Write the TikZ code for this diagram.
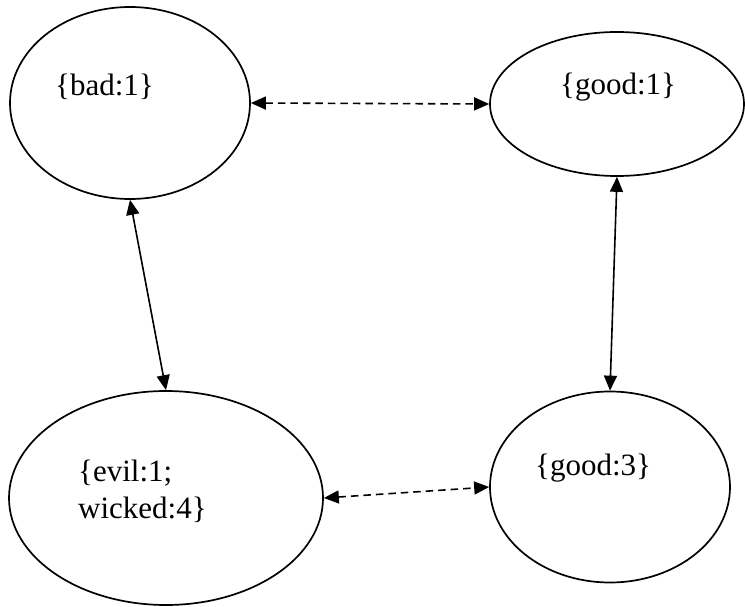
\documentclass[tikz,border=0pt]{standalone}
\usepackage{fontspec}
\setmainfont{Liberation Serif}
\usetikzlibrary{arrows.meta,shapes.geometric}

\tikzset{
  state/.style={ellipse, draw, line width=1.7pt, inner sep=0pt},
  caption/.style={inner sep=0pt, anchor=base west, align=left,
    font=\fontsize{31}{37}\selectfont},
  link/.style={line width=1.6pt, {Triangle[length=15pt,width=13pt]}-{Triangle[length=15pt,width=13pt]}},
  weak/.style={link, dash pattern=on 7.5pt off 5pt},
}

\begin{document}
\begin{tikzpicture}[x=1pt,y=-1pt]
  \useasboundingbox (0,0) rectangle (745,607);

  % the four word clusters
  \node[state, minimum width=240pt, minimum height=192pt] (bad)   at (130,103) {};
  \node[state, minimum width=254pt, minimum height=144pt] (goodA) at (617,104) {};
  \node[state, minimum width=314pt, minimum height=214pt] (evil)  at (166,498) {};
  \node[state, minimum width=240pt, minimum height=191pt] (goodB) at (610,487) {};

  % their contents
  \node[caption] (tbad)   at (55,96)  {\{bad:1\}};
  \node[caption] (tgoodA) at (560,95) {\{good:1\}};
  \node[caption] (tevil)  at (78,518) {\{evil:1;\\wicked:4\}};
  \node[caption] (tgoodB) at (535,475) {\{good:3\}};

  % links between clusters
  \draw[weak] (bad.east) -- (goodA.west);
  \draw[link] (bad.south) -- (evil.north);
  \draw[link] (goodA.south) -- (goodB.north);
  \draw[weak] (evil.east) -- (goodB.west);
\end{tikzpicture}
\end{document}
